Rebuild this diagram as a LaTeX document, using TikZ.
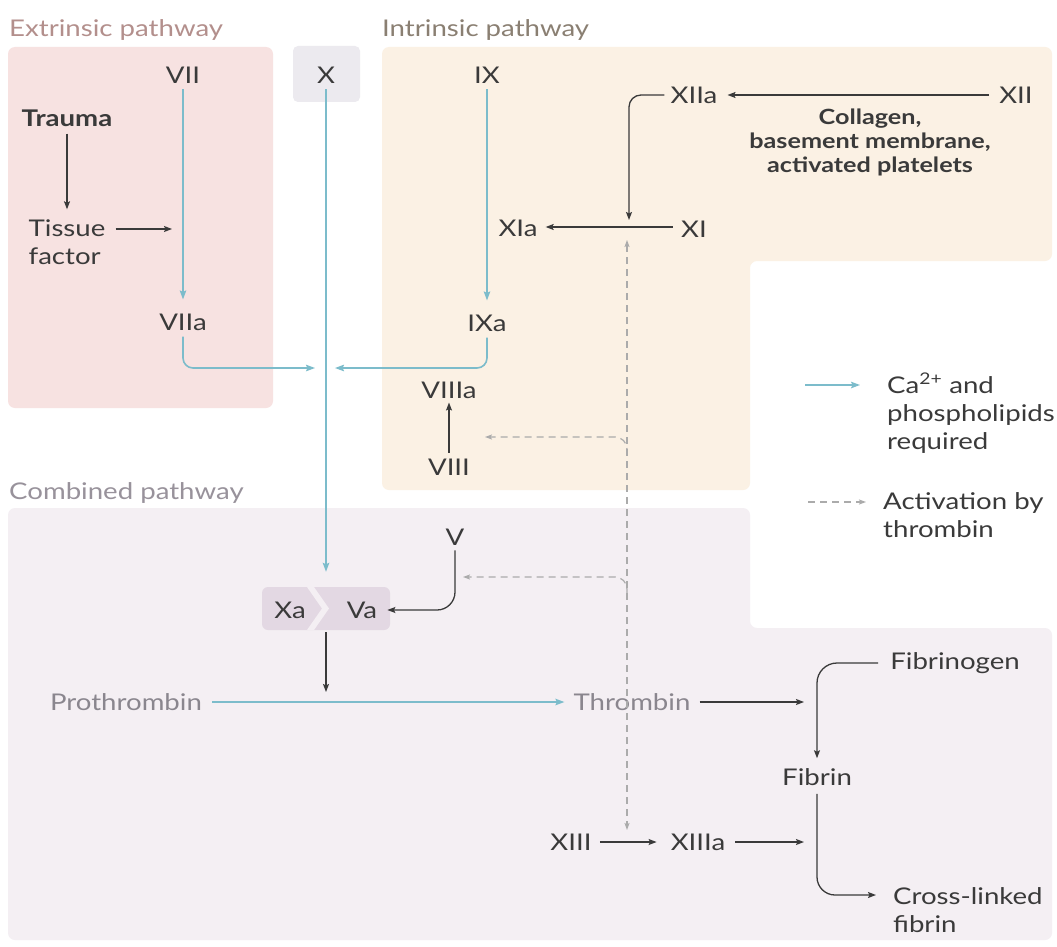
\documentclass[tikz,border=0pt]{standalone}
\usepackage{fontspec}
\setmainfont{Lato}[FakeStretch=1.2]
\usetikzlibrary{arrows.meta,calc}
\definecolor{cext}{HTML}{F7E2E1}
\definecolor{cint}{HTML}{FBF1E4}
\definecolor{ccom}{HTML}{F4EFF3}
\definecolor{cxbox}{HTML}{ECEAEF}
\definecolor{cxva}{HTML}{E3D8E3}
\definecolor{cblue}{HTML}{7CBCCB}
\definecolor{cexttl}{HTML}{B38F8C}
\definecolor{cinttl}{HTML}{8A7F72}
\definecolor{ccomtl}{HTML}{98929B}
\definecolor{ctxt}{HTML}{3A3A3A}
\definecolor{cgray}{HTML}{8A868E}
\definecolor{cdash}{HTML}{ABABAB}
\begin{document}
\begin{tikzpicture}[x=1pt,y=-1pt,
  lbl/.style={font=\fontsize{23}{28}\selectfont, text=ctxt, inner sep=2pt},
  ttl/.style={font=\fontsize{23}{26}\selectfont, inner sep=0pt, anchor=west},
  blk/.style={draw=ctxt, line width=1.3pt, -{Stealth[length=8pt,width=6pt,inset=1.5pt]}},
  blu/.style={draw=cblue, line width=1.6pt, -{Stealth[length=9pt,width=6.5pt,inset=1.5pt]}},
  dsh/.style={draw=cdash, line width=1.2pt, dash pattern=on 7pt off 5pt, -{Stealth[length=7pt,width=5pt,inset=1.5pt]}}]
\useasboundingbox (0,0) rectangle (1057,947);
\fill[white] (0,0) rectangle (1057,947);
% region boxes
\fill[cext, rounded corners=7] (8,47) rectangle (273,408);
\fill[cxbox, rounded corners=5] (293,46) rectangle (360,102);
\fill[cint, rounded corners=7] (382,47) -- (1052,47) -- (1052,261) -- (750,261) -- (750,490) -- (382,490) -- cycle;
\fill[ccom, rounded corners=7] (8,508) -- (750,508) -- (750,628) -- (1052,628) -- (1052,940) -- (8,940) -- cycle;
% titles
\node[ttl, text=cexttl] (extt) at (9,30) {Extrinsic pathway};
\node[ttl, text=cinttl] (intt) at (382,30) {Intrinsic pathway};
\node[ttl, text=ccomtl] (comt) at (9,493) {Combined pathway};
% extrinsic
\node[lbl] (VII) at (183,75) {VII};
\node[lbl] (VIIa) at (183,322) {VIIa};
\node[lbl, font=\fontsize{23}{28}\selectfont\bfseries] (trauma) at (67,118) {Trauma};
\node[lbl, align=left] (tissue) at (67,242) {Tissue\\factor};
\coordinate (tfe) at (172,229);
% X
\node[lbl] (X) at (326,75) {X};
\coordinate (J) at (326,368);
% intrinsic
\node[lbl] (IX) at (487,75) {IX};
\node[lbl] (IXa) at (487,323) {IXa};
\node[lbl] (XIIa) at (694,95) {XIIa};
\node[lbl] (XII) at (1016,95) {XII};
\node[lbl, font=\fontsize{21}{24}\selectfont\bfseries, align=center] (coll) at (870,142) {Collagen,\\basement membrane,\\activated platelets};
\node[lbl] (XIa) at (518,228) {XIa};
\node[lbl] (XI) at (694,229) {XI};
\coordinate (XIj) at (629,227);
\node[lbl] (VIIIa) at (449,390) {VIIIa};
\node[lbl] (VIII) at (449,467) {VIII};
% combined
\node[lbl] (V) at (455,537) {V};
\node[fill=cxva, rounded corners=6, minimum width=128pt, minimum height=43pt, inner sep=0pt] (XaVa) at (326,608.5) {};
\fill[ccom] (307,587) -- (314,587) -- (329,608.5) -- (314,630) -- (307,630) -- (322,608.5) -- cycle;
\node[lbl] (Xa) at (290,610) {Xa};
\node[lbl] (Va) at (362,610) {Va};
\coordinate (P) at (326,702);
\node[lbl, text=cgray] (pro) at (126,702) {Prothrombin};
\node[lbl, text=cgray, fill=ccom, inner sep=3pt] (thr) at (632,702) {Thrombin};
\node[lbl] (fbg) at (955,663) {Fibrinogen};
\node[lbl] (fib) at (817,777) {Fibrin};
\node[lbl] (XIII) at (571,842) {XIII};
\node[lbl] (XIIIa) at (698,842) {XIIIa};
\node[lbl, align=left, anchor=west] (cross) at (891,910) {Cross-linked\\fibrin};
\coordinate (crossin) at (876,895);
% legend
\coordinate (lg1a) at (805,385);
\coordinate (lg1b) at (860,385);
\coordinate (lg2a) at (808,502);
\coordinate (lg2b) at (866,502);
\node[lbl, align=left, anchor=west] (lgt1) at (885,413) {Ca\textsuperscript{2+} and\\phospholipids\\required};
\node[lbl, align=left, anchor=west] (lgt2) at (881,515) {Activation by\\thrombin};
% dashed thrombin activation
\coordinate (dtop) at (627,240);
\coordinate (dbot) at (627,830);
\coordinate (d1s) at (627,455);
\coordinate (d1e) at (485,437);
\coordinate (d2s) at (627,595);
\coordinate (d2e) at (463,577);
\draw[dsh, {Stealth[length=7pt,width=5pt,inset=1.5pt]}-{Stealth[length=7pt,width=5pt,inset=1.5pt]}] (dtop) -- (dbot);
\draw[dsh, rounded corners=12] (d1s) |- (d1e);
\draw[dsh, rounded corners=12] (d2s) |- (d2e);
\draw[dsh] (lg2a) -- (lg2b);
% blue connectors
\draw[blu] ($(VII.south)+(0,4)$) -- ($(VIIa.north)+(0,-12)$);
\draw[blu] ($(IX.south)+(0,4)$) -- ($(IXa.north)+(0,-12)$);
\draw[blu] ($(X.south)+(0,4)$) -- ($(XaVa.north)+(0,-15)$);
\draw[blu, rounded corners=10] ($(VIIa.south)+(0,4)$) |- ($(J)+(-11,0)$);
\draw[blu, rounded corners=10] ($(IXa.south)+(0,4)$) |- ($(J)+(9,0)$);
\draw[blu] ($(pro.east)+(8,0)$) -- ($(thr.west)+(-6,0)$);
\draw[blu] (lg1a) -- (lg1b);
% black connectors
\draw[blk] ($(trauma.south)+(0,5)$) -- ($(trauma.south |- tissue.north)+(0,-8)$);
\draw[blk] ($(tissue.east |- tfe)+(8,0)$) -- (tfe);
\draw[blk] ($(XII.west)+(-8,0)$) -- ($(XIIa.east)+(8,0)$);
\draw[blk, rounded corners=12] ($(XIIa.west)+(-4,0)$) -| ($(XIj)+(0,-7)$);
\draw[blk] ($(XI.west |- XIj)+(-6,0)$) -- ($(XIa.east |- XIj)+(6,0)$);
\draw[blk] ($(VIII.north)+(0,-4)$) -- ($(VIIIa.south)+(0,2)$);
\draw[blk, rounded corners=18] ($(V.south)+(0,3)$) |- ($(Va.east)+(8,0)$);
\draw[blk] ($(XaVa.south)+(0,2)$) -- ($(P)+(0,-10)$);
\draw[blk] ($(thr.east)+(6,0)$) -- ($(fib.north |- thr)+(-13,0)$);
\draw[blk, rounded corners=20] ($(fbg.west)+(-10,0)$) -| ($(fib.north)+(0,-8)$);
\draw[blk, rounded corners=18] ($(fib.south)+(0,6)$) |- (crossin);
\draw[blk] ($(XIII.east)+(6,0)$) -- ($(XIIIa.west)+(-12,0)$);
\draw[blk] ($(XIIIa.east)+(8,0)$) -- ($(fib.south |- XIIIa)+(-13,0)$);
\end{tikzpicture}
\end{document}
